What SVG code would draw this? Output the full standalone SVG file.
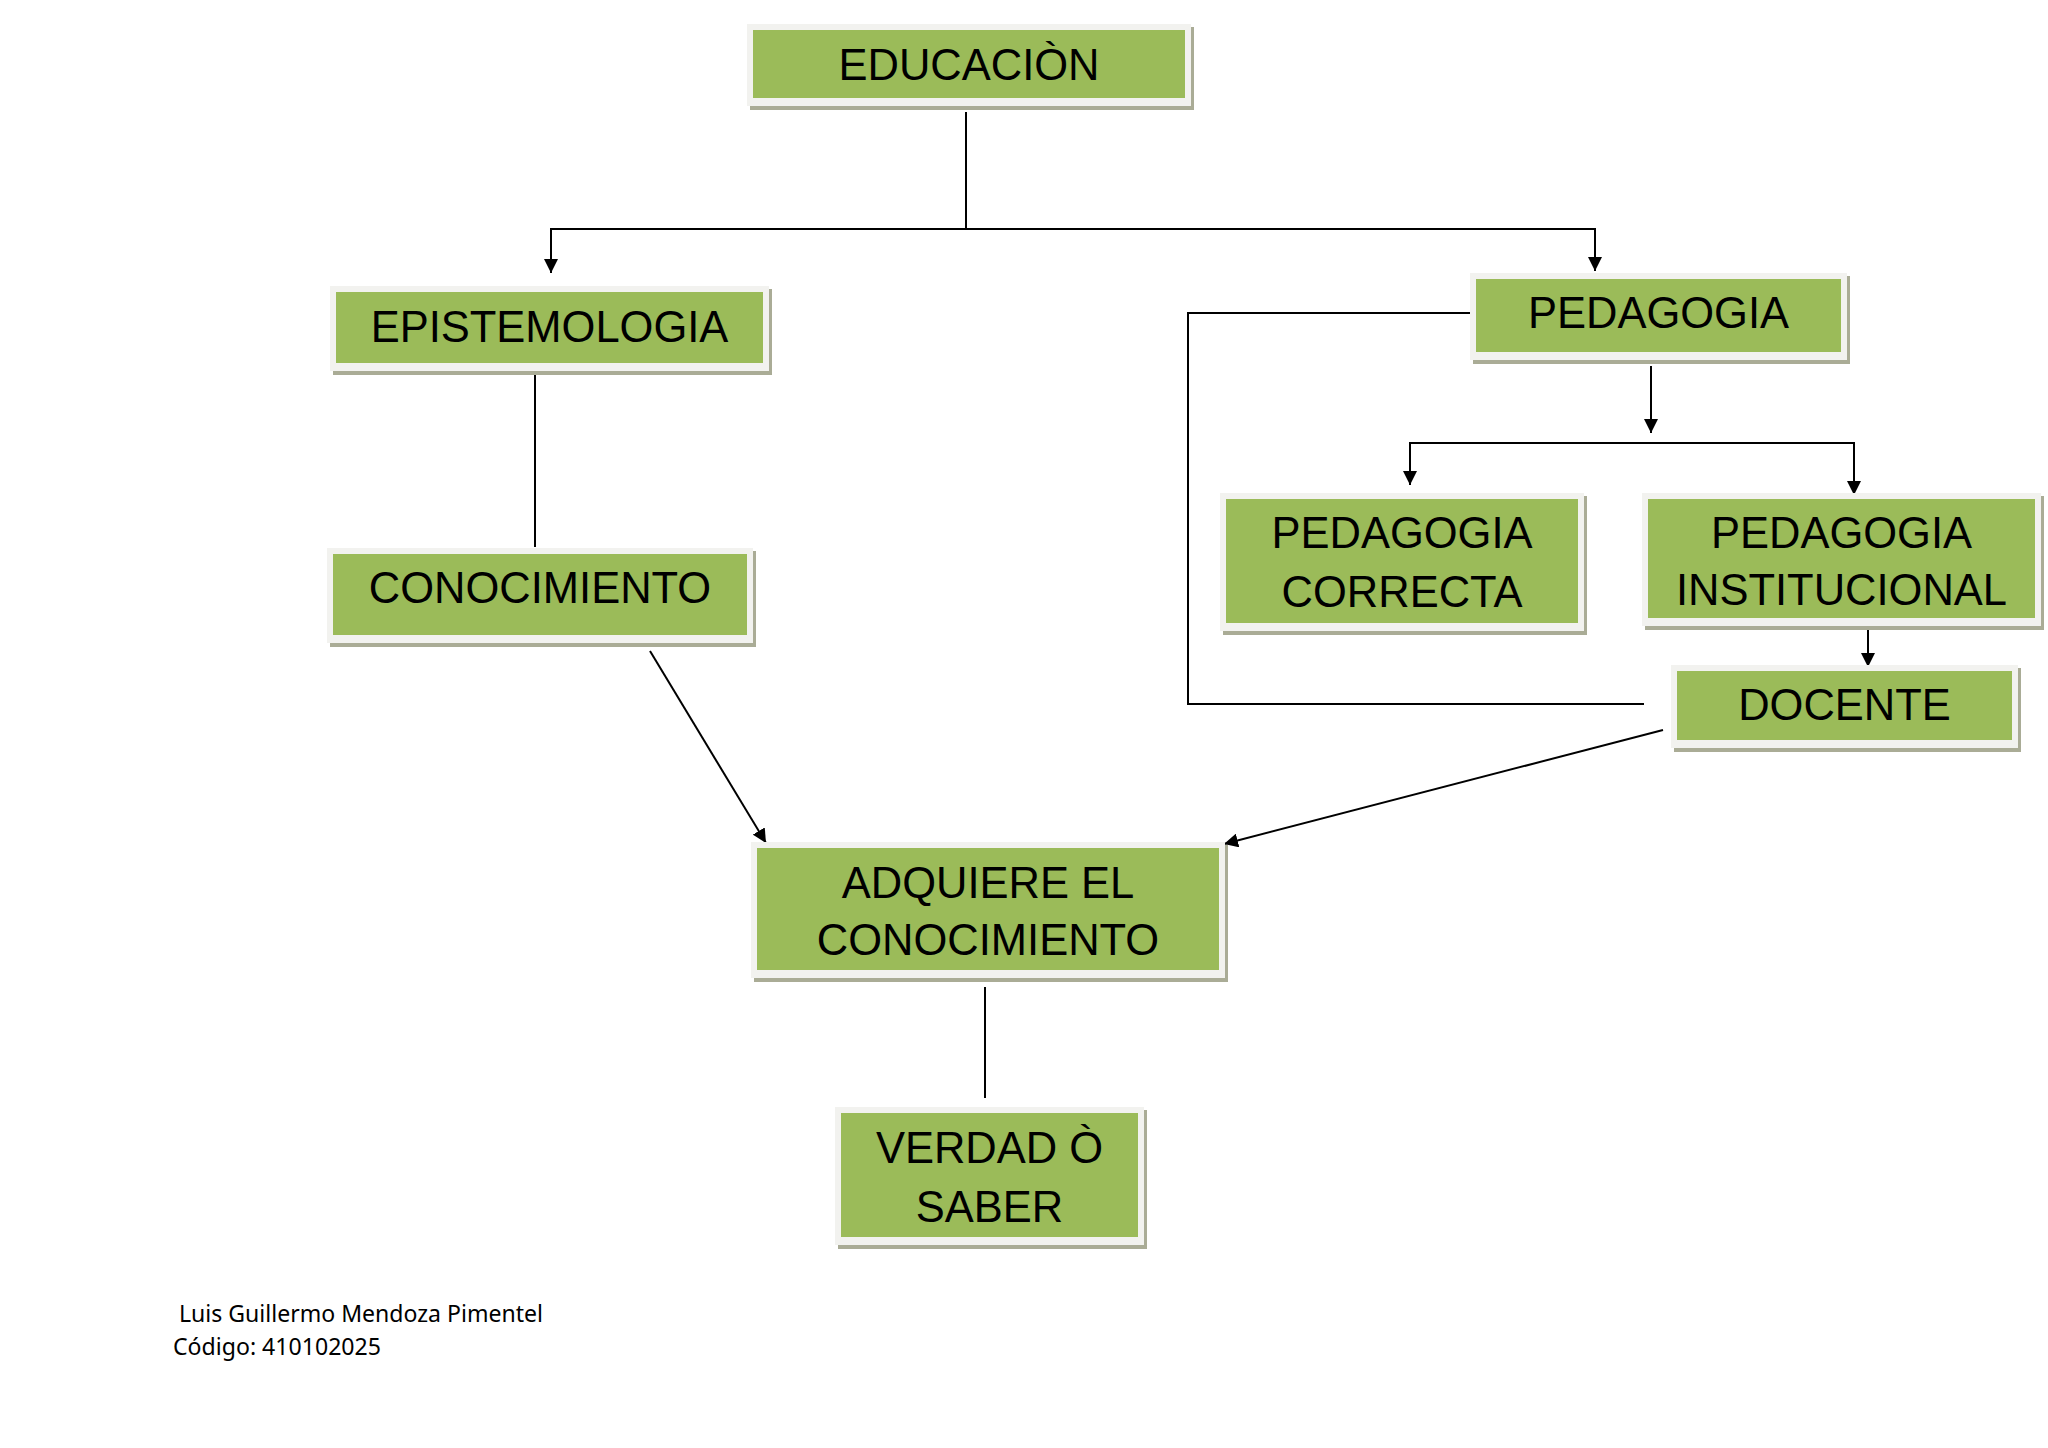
<svg xmlns="http://www.w3.org/2000/svg" width="2048" height="1448" viewBox="0 0 2048 1448">
<style>
.sh{fill:#aaac96}
.fr{fill:#f2f2ef}
.gr{fill:#9bbb59}
.t{font-family:"Liberation Sans",Arial,sans-serif;font-size:43.5px;fill:#000;text-anchor:middle}
.c{fill:none;stroke:#000;stroke-width:2}
.a{marker-end:url(#ah)}
.n{font-family:"Noto Sans","Open Sans",sans-serif;font-size:23px;fill:#000}
</style>
<defs>
<marker id="ah" markerUnits="userSpaceOnUse" markerWidth="14" markerHeight="14" viewBox="0 0 14 14" refX="14" refY="7" orient="auto">
<path d="M0,0 L14,7 L0,14 Z" fill="#000"/>
</marker>
</defs>
<rect width="2048" height="1448" fill="#fff"/>

<g id="connectors">
<path class="c" d="M966,112 V229"/>
<path class="c a" d="M966,229 H551 V273"/>
<path class="c a" d="M966,229 H1595 V271"/>
<path class="c" d="M535,375 V547"/>
<path class="c a" d="M650,651 L766,843"/>
<path class="c a" d="M1663,730 L1224,844"/>
<path class="c" d="M1472,313 H1188 V704 H1644"/>
<path class="c a" d="M1651,366 V433"/>
<path class="c a" d="M1651,443 H1410 V485"/>
<path class="c a" d="M1651,443 H1854 V495"/>
<path class="c a" d="M1868,627 V667"/>
<path class="c" d="M985,987 V1098"/>
</g>

<g id="educacion">
<rect class="sh" x="750" y="27" width="444" height="83"/>
<rect class="fr" x="747" y="24" width="444" height="82"/>
<rect class="gr" x="753" y="30" width="432" height="68"/>
<text class="t" x="969" y="80">EDUCACIÒN</text>
</g>

<g id="epistemologia">
<rect class="sh" x="333" y="289" width="439" height="86"/>
<rect class="fr" x="330" y="286" width="439" height="85"/>
<rect class="gr" x="336" y="292" width="427" height="71"/>
<text class="t" x="549.5" y="342">EPISTEMOLOGIA</text>
</g>

<g id="conocimiento">
<rect class="sh" x="330" y="551" width="426" height="96"/>
<rect class="fr" x="327" y="548" width="426" height="95"/>
<rect class="gr" x="333" y="554" width="414" height="81"/>
<text class="t" x="540" y="603">CONOCIMIENTO</text>
</g>

<g id="pedagogia">
<rect class="sh" x="1473" y="276" width="377" height="88"/>
<rect class="fr" x="1470" y="273" width="377" height="87"/>
<rect class="gr" x="1476" y="279" width="365" height="73"/>
<text class="t" x="1658.5" y="328">PEDAGOGIA</text>
</g>

<g id="pedagogia-correcta">
<rect class="sh" x="1223" y="496" width="364" height="139"/>
<rect class="fr" x="1220" y="493" width="364" height="138"/>
<rect class="gr" x="1226" y="499" width="352" height="124"/>
<text class="t" x="1402" y="548">PEDAGOGIA</text>
<text class="t" x="1402" y="607">CORRECTA</text>
</g>

<g id="pedagogia-institucional">
<rect class="sh" x="1645" y="496" width="399" height="134"/>
<rect class="fr" x="1642" y="493" width="399" height="133"/>
<rect class="gr" x="1648" y="499" width="387" height="119"/>
<text class="t" x="1841.5" y="548">PEDAGOGIA</text>
<text class="t" x="1841.5" y="605">INSTITUCIONAL</text>
</g>

<g id="docente">
<rect class="sh" x="1674" y="668" width="347" height="84"/>
<rect class="fr" x="1671" y="665" width="347" height="83"/>
<rect class="gr" x="1677" y="671" width="335" height="69"/>
<text class="t" x="1844.5" y="720">DOCENTE</text>
</g>

<g id="adquiere">
<rect class="sh" x="754" y="845" width="474" height="137"/>
<rect class="fr" x="751" y="842" width="474" height="136"/>
<rect class="gr" x="757" y="848" width="462" height="122"/>
<text class="t" x="988" y="898">ADQUIERE EL</text>
<text class="t" x="988" y="955">CONOCIMIENTO</text>
</g>

<g id="verdad">
<rect class="sh" x="838" y="1110" width="309" height="139"/>
<rect class="fr" x="835" y="1107" width="309" height="138"/>
<rect class="gr" x="841" y="1113" width="297" height="124"/>
<text class="t" x="989.5" y="1163">VERDAD Ò</text>
<text class="t" x="989.5" y="1222">SABER</text>
</g>

<g id="author">
<text class="n" x="179" y="1322" textLength="364" lengthAdjust="spacingAndGlyphs">Luis Guillermo Mendoza Pimentel</text>
<text class="n" x="173" y="1355" textLength="208" lengthAdjust="spacingAndGlyphs">Código: 410102025</text>
</g>
</svg>
